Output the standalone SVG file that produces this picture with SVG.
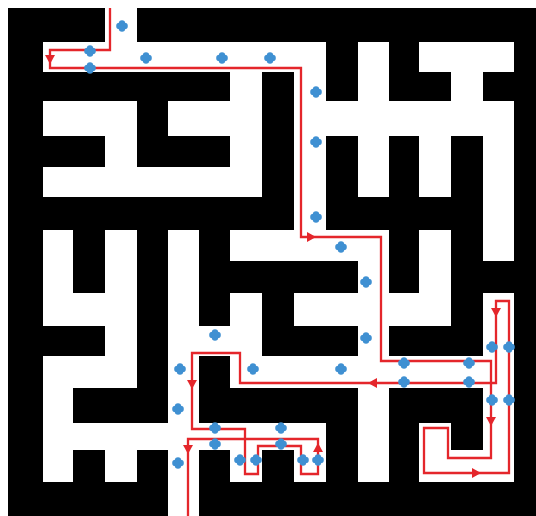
<svg xmlns="http://www.w3.org/2000/svg" xmlns:xlink="http://www.w3.org/1999/xlink" width="536" height="516" viewBox="0 0 536 516">
<style>
.w{fill:#ffffff}
.route{fill:none;stroke:#e4262b;stroke-width:2.3;stroke-linejoin:miter}
.arr{fill:#e4262b}
.dot{fill:#3f90d2}
</style>
<defs>
<polygon id="tri" points="-4,-5 5,0 -4,5"/>
<g id="blob"><circle cx="-2.6" cy="0" r="3.2"/><circle cx="2.6" cy="0" r="3.2"/><circle cx="0" cy="-2.6" r="3.2"/><circle cx="0" cy="2.6" r="3.2"/></g>
</defs>
<rect x="0" y="0" width="536" height="516" fill="#ffffff"/>
<g id="maze" shape-rendering="crispEdges">
<rect x="8" y="8" width="528" height="508" fill="#000000"/>
<g class="w">
<rect x="105" y="8" width="32" height="34"/>
<rect x="43" y="42" width="283" height="30"/><rect x="358" y="42" width="31" height="30"/><rect x="419" y="42" width="95" height="30"/>
<rect x="230" y="72" width="32" height="29"/><rect x="294" y="72" width="32" height="29"/><rect x="358" y="72" width="31" height="29"/><rect x="451" y="72" width="32" height="29"/>
<rect x="43" y="101" width="94" height="35"/><rect x="168" y="101" width="94" height="35"/><rect x="294" y="101" width="220" height="35"/>
<rect x="105" y="136" width="32" height="31"/><rect x="230" y="136" width="32" height="31"/><rect x="294" y="136" width="32" height="31"/><rect x="358" y="136" width="31" height="31"/><rect x="419" y="136" width="32" height="31"/><rect x="483" y="136" width="31" height="31"/>
<rect x="43" y="167" width="219" height="30"/><rect x="294" y="167" width="32" height="30"/><rect x="358" y="167" width="31" height="30"/><rect x="419" y="167" width="32" height="30"/><rect x="483" y="167" width="31" height="30"/>
<rect x="294" y="197" width="32" height="33"/><rect x="483" y="197" width="31" height="33"/>
<rect x="43" y="230" width="30" height="31"/><rect x="105" y="230" width="32" height="31"/><rect x="168" y="230" width="31" height="31"/><rect x="230" y="230" width="159" height="31"/><rect x="419" y="230" width="32" height="31"/><rect x="483" y="230" width="31" height="31"/>
<rect x="43" y="261" width="30" height="32"/><rect x="105" y="261" width="32" height="32"/><rect x="168" y="261" width="31" height="32"/><rect x="358" y="261" width="31" height="32"/><rect x="419" y="261" width="32" height="32"/>
<rect x="43" y="293" width="94" height="33"/><rect x="168" y="293" width="31" height="33"/><rect x="230" y="293" width="32" height="33"/><rect x="294" y="293" width="157" height="33"/><rect x="483" y="293" width="31" height="33"/>
<rect x="105" y="326" width="32" height="30"/><rect x="168" y="326" width="94" height="30"/><rect x="358" y="326" width="31" height="30"/><rect x="483" y="326" width="31" height="30"/>
<rect x="43" y="356" width="94" height="32"/><rect x="168" y="356" width="31" height="32"/><rect x="230" y="356" width="284" height="32"/>
<rect x="43" y="388" width="30" height="35"/><rect x="168" y="388" width="31" height="35"/><rect x="358" y="388" width="31" height="35"/><rect x="483" y="388" width="31" height="35"/>
<rect x="43" y="423" width="283" height="27"/><rect x="358" y="423" width="31" height="27"/><rect x="419" y="423" width="32" height="27"/><rect x="483" y="423" width="31" height="27"/>
<rect x="43" y="450" width="30" height="32"/><rect x="105" y="450" width="32" height="32"/><rect x="168" y="450" width="31" height="32"/><rect x="230" y="450" width="32" height="32"/><rect x="294" y="450" width="32" height="32"/><rect x="358" y="450" width="31" height="32"/><rect x="419" y="450" width="95" height="32"/>
<rect x="168" y="482" width="31" height="34"/>
</g>
</g>
<g id="connectors">
<path class="route" d="M110 8V50H50V68H301V237H381V361H491V458H448V428H424V473H509V301H496V383H240V353H192V429H245V474H258V446H301V474H318V439H188V516"/>
<g class="arr">
<use xlink:href="#tri" transform="translate(50,59) rotate(90)"/>
<use xlink:href="#tri" transform="translate(311,237)"/>
<use xlink:href="#tri" transform="translate(496,312) rotate(90)"/>
<use xlink:href="#tri" transform="translate(491,421) rotate(90)"/>
<use xlink:href="#tri" transform="translate(476,473)"/>
<use xlink:href="#tri" transform="translate(373,383) rotate(180)"/>
<use xlink:href="#tri" transform="translate(192,384) rotate(90)"/>
<use xlink:href="#tri" transform="translate(188,449) rotate(90)"/>
<use xlink:href="#tri" transform="translate(318,448) rotate(-90)"/>
</g>
</g>
<g id="points" class="dot">
<use xlink:href="#blob" x="122" y="26"/><use xlink:href="#blob" x="90" y="51"/><use xlink:href="#blob" x="90" y="68"/><use xlink:href="#blob" x="146" y="58"/><use xlink:href="#blob" x="222" y="58"/><use xlink:href="#blob" x="270" y="58"/>
<use xlink:href="#blob" x="316" y="92"/><use xlink:href="#blob" x="316" y="142"/><use xlink:href="#blob" x="316" y="217"/><use xlink:href="#blob" x="341" y="247"/>
<use xlink:href="#blob" x="366" y="282"/><use xlink:href="#blob" x="366" y="338"/><use xlink:href="#blob" x="341" y="369"/><use xlink:href="#blob" x="404" y="363"/><use xlink:href="#blob" x="404" y="382"/><use xlink:href="#blob" x="469" y="363"/><use xlink:href="#blob" x="469" y="382"/>
<use xlink:href="#blob" x="492" y="347"/><use xlink:href="#blob" x="509" y="347"/><use xlink:href="#blob" x="492" y="400"/><use xlink:href="#blob" x="509" y="400"/>
<use xlink:href="#blob" x="281" y="428"/><use xlink:href="#blob" x="281" y="444"/><use xlink:href="#blob" x="303" y="460"/><use xlink:href="#blob" x="318" y="460"/>
<use xlink:href="#blob" x="215" y="335"/><use xlink:href="#blob" x="180" y="369"/><use xlink:href="#blob" x="253" y="369"/><use xlink:href="#blob" x="178" y="409"/><use xlink:href="#blob" x="215" y="428"/><use xlink:href="#blob" x="215" y="444"/><use xlink:href="#blob" x="240" y="460"/><use xlink:href="#blob" x="256" y="460"/><use xlink:href="#blob" x="178" y="463"/>
</g>
</svg>
